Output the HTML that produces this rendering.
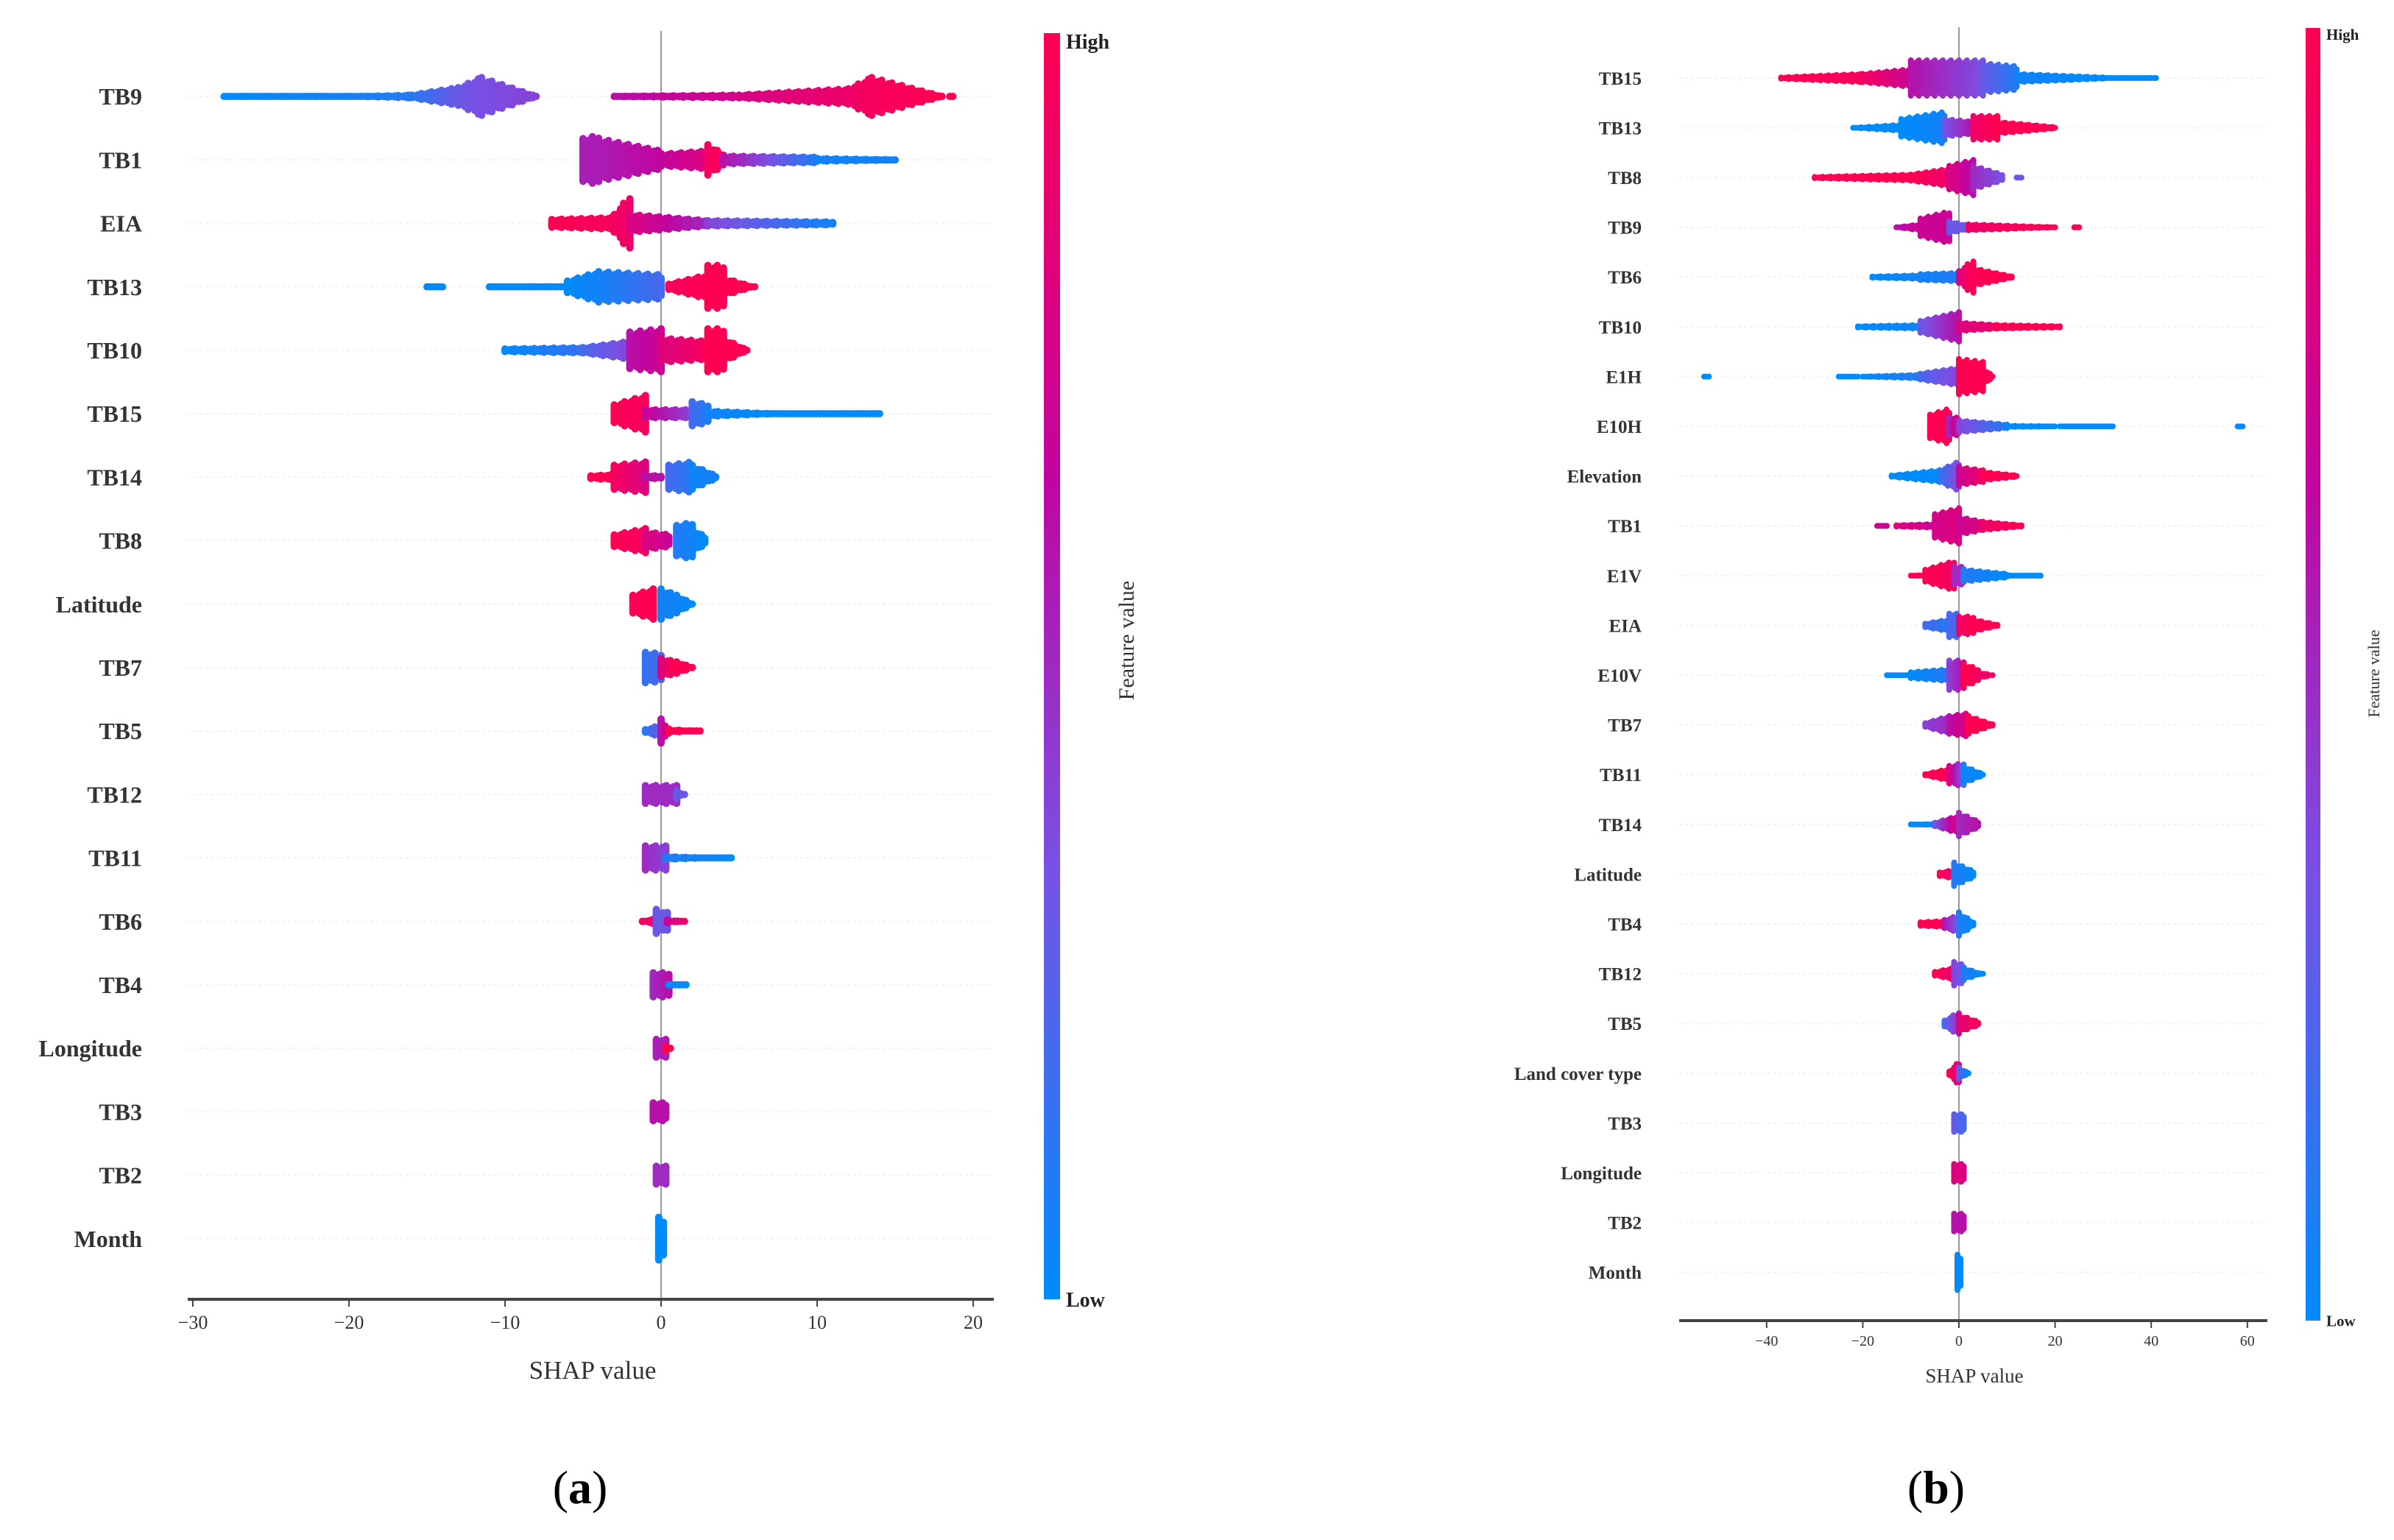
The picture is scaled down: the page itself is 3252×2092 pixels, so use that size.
<!DOCTYPE html>
<html><head><meta charset="utf-8">
<style>
html,body{margin:0;padding:0;background:#fff;}
svg{display:block;}
text{font-family:"Liberation Serif",serif;}
</style></head>
<body>
<svg id="chart" width="3252" height="2092" viewBox="0 0 3252 2092" xmlns="http://www.w3.org/2000/svg">
<defs>
<linearGradient id="cbar" x1="0" y1="1" x2="0" y2="0">
<stop offset="0" stop-color="#008bfb"/>
<stop offset="0.35" stop-color="#7a4fe3"/>
<stop offset="0.65" stop-color="#c2049f"/>
<stop offset="1" stop-color="#ff0052"/>
</linearGradient>
</defs>
<g id="panelA"></g>
<g id="panelB"></g>
</svg>
<script>
// ---- Panel (a) data ----
const featuresA = ["TB9","TB1","EIA","TB13","TB10","TB15","TB14","TB8","Latitude","TB7","TB5","TB12","TB11","TB6","TB4","Longitude","TB3","TB2","Month"];
const ticksA = [-30,-20,-10,0,10,20];
// segments: [shapStart, shapEnd, halfHeightStart, halfHeightEnd, colorStart, colorEnd]
const segsA = [
 [[-28,-22,4,4,0,0.05],[-22,-16,4,8,0.05,0.1],[-16,-13,8,20,0.1,0.3],[-13,-11.5,20,36,0.3,0.35],[-11.5,-8,36,6,0.35,0.4],[-3,5,6,8,0.6,0.75],[5,12,8,18,0.75,0.9],[12,13.5,18,36,0.9,0.95],[13.5,18,36,6,0.95,1],[18.5,18.7,4,4,1,1]],
 [[-5,-4,40,45,0.55,0.55],[-4,0,40,20,0.55,0.65],[0,3,15,20,0.65,0.8],[3,4,30,15,0.95,0.95],[4,10,12,10,0.6,0.1],[10,15,8,6,0.05,0.05]],
 [[-7,-3,12,15,1,0.95],[-3,-2,20,50,0.95,0.9],[-2,3,20,10,0.8,0.5],[3,11,10,8,0.4,0.05]],
 [[-15,-14,4,4,0,0],[-11,-6,5,5,0,0],[-6,-4,15,30,0,0.05],[-4,0,30,25,0.05,0.2],[0.5,3,10,25,0.95,1],[3,4,40,40,1,1],[4,6,20,5,1,1]],
 [[-10,-5,8,10,0,0.15],[-5,-2,10,20,0.2,0.4],[-2,0,35,40,0.6,0.7],[0,3,25,20,0.8,0.95],[3,4,40,40,1,1],[4,5.5,25,6,1,1]],
 [[-3,-1,20,35,1,0.95],[-1,2,12,12,0.7,0.4],[2,3,25,20,0.2,0.1],[3,7,10,6,0.05,0],[7,14,4,4,0,0]],
 [[-4.5,-3,8,10,1,1],[-3,-1,25,30,0.95,0.8],[-1,0,8,8,0.6,0.6],[0.5,2,25,30,0.2,0.1],[2,3.5,25,8,0.05,0.05]],
 [[-3,-1,15,25,1,0.95],[-1,0.5,20,15,0.8,0.7],[1,2,30,35,0.1,0.05],[2,2.8,25,12,0.05,0]],
 [[-1.8,-0.5,20,30,1,1],[0,1,30,20,0.05,0.05],[1,2,20,6,0.05,0]],
 [[-1,0,30,28,0.15,0.2],[0,1,20,15,0.8,1],[1,2,15,6,1,1]],
 [[-1,0,8,15,0.1,0.3],[0,0.5,25,10,0.6,0.9],[0.5,2.5,8,5,1,1]],
 [[-1,1,20,20,0.5,0.5],[1,1.5,12,6,0.3,0.3]],
 [[-1,0.3,25,25,0.5,0.4],[0.3,4.5,8,4,0.1,0]],
 [[-1.2,-0.3,6,10,1,0.8],[-0.3,0.4,25,20,0.3,0.3],[0.4,1.5,8,5,0.7,0.9]],
 [[-0.5,0.5,25,25,0.5,0.6],[0.5,1.6,6,5,0,0]],
 [[-0.3,0.3,20,20,0.55,0.55],[0.3,0.6,10,6,1,1]],
 [[-0.5,0.3,20,20,0.6,0.6]],
 [[-0.3,0.3,20,20,0.5,0.5]],
 [[-0.15,0.15,40,40,0,0]]
];
// ---- Panel (b) data ----
const featuresB = ["TB15","TB13","TB8","TB9","TB6","TB10","E1H","E10H","Elevation","TB1","E1V","EIA","E10V","TB7","TB11","TB14","Latitude","TB4","TB12","TB5","Land cover type","TB3","Longitude","TB2","Month"];
const ticksB = [-40,-20,0,20,40,60];
const segsB = [
 [[-37,-20,6,12,1,0.95],[-20,-10,12,20,0.95,0.7],[-10,5,35,35,0.6,0.35],[5,12,30,25,0.3,0.1],[12,30,12,6,0.05,0],[30,41,4,4,0,0]],
 [[-22,-12,5,10,0,0],[-12,-3,20,32,0,0.05],[-3,3,20,15,0.3,0.6],[3,8,25,25,0.9,1],[8,20,15,6,1,1]],
 [[-30,-10,6,10,1,1],[-10,-2,10,20,1,0.9],[-2,3,25,35,0.8,0.6],[3,9,25,10,0.5,0.35],[12,13,4,4,0.3,0.3]],
 [[-13,-8,5,10,0.6,0.7],[-8,-2,20,32,0.7,0.7],[-2,2,15,8,0.3,0.3],[2,20,10,5,0.9,1],[24,25,4,4,1,1]],
 [[-18,-8,6,8,0,0.05],[-8,0,10,12,0.05,0.1],[0,3,15,35,0.8,1],[3,11,20,6,1,1]],
 [[-21,-8,6,8,0,0.05],[-8,0,15,30,0.3,0.6],[0,8,12,8,0.8,0.9],[8,21,8,6,1,1]],
 [[-53,-52,3,3,0,0],[-25,-21,4,4,0,0],[-20,-8,5,8,0,0.1],[-8,0,10,20,0.2,0.4],[0,5,35,30,1,1],[5,7,20,6,1,1]],
 [[-6,-2,25,35,1,1],[-2,0,20,20,0.5,0.8],[0,10,15,8,0.4,0.1],[10,20,6,5,0,0],[21,32,3,3,0,0],[58,59,3,3,0,0]],
 [[-14,-4,6,15,0,0],[-4,0,15,30,0.1,0.4],[0,5,20,15,0.7,0.9],[5,12,12,6,1,1]],
 [[-17,-15,3,3,0.7,0.7],[-13,-5,6,8,0.8,0.7],[-5,0,25,35,0.75,0.8],[0,5,20,12,0.7,0.8],[5,13,12,6,0.9,1]],
 [[-10,-7,4,6,1,1],[-7,-1,15,30,1,0.95],[-1,1,20,20,0.5,0.5],[1,10,15,8,0.1,0],[10,17,5,4,0,0]],
 [[-7,-2,8,15,0.2,0.1],[-2,0,25,25,0.2,0.2],[0,3,20,20,0.9,1],[3,8,15,6,1,1]],
 [[-15,-10,4,5,0,0],[-10,-2,10,15,0,0.1],[-2,1,30,30,0.4,0.6],[1,4,25,15,1,1],[4,7,10,5,0.9,0.9]],
 [[-7,-2,8,20,0.4,0.5],[-2,2,20,25,0.6,0.8],[2,7,20,6,1,1]],
 [[-7,-2,6,15,1,1],[-2,1,20,25,0.8,0.3],[1,5,20,6,0.05,0]],
 [[-10,-5,4,6,0,0],[-5,0,8,20,0.3,0.8],[0,4,25,10,0.5,0.6]],
 [[-4,-1,8,12,1,0.9],[-1,3,25,10,0.1,0]],
 [[-8,-3,8,10,1,1],[-3,0,12,20,0.6,0.3],[0,3,25,8,0.1,0]],
 [[-5,-1,8,15,1,0.9],[-1,1,25,20,0.4,0.3],[1,5,15,4,0.1,0]],
 [[-3,0,10,25,0.2,0.5],[0,4,20,8,0.8,1]],
 [[-2,0,8,25,1,0.8],[0,2,15,5,0.3,0]],
 [[-1,1,20,20,0.3,0.2]],
 [[-1,1,20,20,0.8,0.8]],
 [[-1,1,20,20,0.6,0.6]],
 [[-0.3,0.3,35,35,0,0]]
];

const NS = "http://www.w3.org/2000/svg";
function mk(tag, attrs, parent){const e=document.createElementNS(NS,tag);for(const k in attrs)e.setAttribute(k,attrs[k]);parent.appendChild(e);return e;}
const stops=[[0,[0,139,251]],[0.35,[122,79,227]],[0.65,[194,4,159]],[1,[255,0,82]]];
function col(t){t=Math.max(0,Math.min(1,t));for(let i=1;i<stops.length;i++){if(t<=stops[i][0]){const a=stops[i-1],b=stops[i];const f=(t-a[0])/(b[0]-a[0]);const c=a[1].map((v,j)=>Math.round(v+(b[1][j]-v)*f));return `rgb(${c[0]},${c[1]},${c[2]})`;}}return "rgb(255,0,82)";}

function panel(g, cfg){
  const xs=v=>cfg.x0+v*cfg.kx;
  const ys=i=>cfg.yTop+i*cfg.dy;
  cfg.features.forEach((f,i)=>{
    const gl=mk("line",{x1:cfg.axL,x2:cfg.axR,y1:ys(i),y2:ys(i),stroke:"#f2f2f2","stroke-width":2,"stroke-dasharray":"4 4"},g);
    
    
  });
  const zl=mk("line",{x1:xs(0),x2:xs(0),y1:cfg.zTop,y2:cfg.axY,stroke:"#999","stroke-width":2},g);
  
  
  cfg.features.forEach((f,i)=>{
    const t=mk("text",{x:cfg.labX,y:ys(i)+cfg.fs*0.35,"text-anchor":"end","font-size":cfg.fs,"font-weight":"bold",fill:"#333"},g);
    t.textContent=f;
    
    
  });
  cfg.segs.forEach((segs,i)=>{
    const row=mk("g",{},g);
    
    
    const y=ys(i);
    segs.forEach(s=>{
      const px0=xs(s[0]),px1=xs(s[1]);
      const step=cfg.r*0.9;
      const n=Math.max(1,Math.round((px1-px0)/step));
      for(let k=0;k<=n;k++){
        const f=n?k/n:0;
        const x=px0+(px1-px0)*f;
        const h=(s[2]+(s[3]-s[2])*f)*cfg.hs;
        const jig=(k%3===1)?0.8:(k%3===2?0.9:1);
        const hh=Math.max(0,h*jig-cfg.r);
        mk("line",{x1:x.toFixed(1),x2:x.toFixed(1),y1:(y-hh).toFixed(1),y2:(y+hh+0.01).toFixed(1),stroke:col(s[4]+(s[5]-s[4])*f),"stroke-width":cfg.r*2,"stroke-linecap":"round"},row);
      }
    });
  });
  const ax=mk("line",{x1:cfg.axL,x2:cfg.axR,y1:cfg.axY,y2:cfg.axY,stroke:"#444","stroke-width":4},g);
  
  
  cfg.ticks.forEach(v=>{
    const tk=mk("line",{x1:xs(v),x2:xs(v),y1:cfg.axY,y2:cfg.axY+10,stroke:"#444","stroke-width":2},g);
    
    
    const tl=mk("text",{x:xs(v),y:cfg.axY+cfg.tfs+14,"text-anchor":"middle","font-size":cfg.tfs,fill:"#333"},g);
    tl.textContent=v<0?"\u2212"+Math.abs(v):String(v);
    
    
  });
  const xt=mk("text",{x:cfg.xtX,y:cfg.xtY,"text-anchor":"middle","font-size":cfg.xfs,fill:"#333"},g);
  xt.textContent="SHAP value";
  
  
  const cb=mk("rect",{x:cfg.cbX,y:cfg.cbTop,width:cfg.cbW,height:cfg.axY-cfg.cbTop,fill:"url(#cbar)"},g);
  
  
  const hi=mk("text",{x:cfg.cbX+cfg.cbW+8,y:cfg.cbTop+cfg.cfs*0.75,"font-size":cfg.cfs,"font-weight":"bold",fill:"#222"},g);
  hi.textContent="High";
  
  
  const lo=mk("text",{x:cfg.cbX+cfg.cbW+8,y:cfg.axY+cfg.cfs*0.35,"font-size":cfg.cfs,"font-weight":"bold",fill:"#222"},g);
  lo.textContent="Low";
  
  
  const fv=mk("text",{x:cfg.fvX,y:cfg.fvY,"text-anchor":"middle","font-size":cfg.fvs,fill:"#333",transform:`rotate(-90 ${cfg.fvX} ${cfg.fvY})`},g);
  fv.textContent="Feature value";
  
  
  const cap=mk("text",{x:cfg.capX,y:2042,"text-anchor":"middle","font-size":64,fill:"#000"},g);
  cap.innerHTML='(<tspan font-weight="bold">'+cfg.cap+'</tspan>)';
  
  
}

panel(document.getElementById("panelA"),{
  features:featuresA,segs:segsA,ticks:ticksA,
  x0:898,kx:21.2,yTop:131,dy:86.2,r:5,hs:0.85,
  axL:255,axR:1350,axY:1765,zTop:42,labX:193,fs:32,tfs:26,
  xtX:805,xtY:1873,xfs:35,cbX:1418,cbW:22,cbTop:45,cfs:28,
  fvX:1540,fvY:870,fvs:30,capX:788,cap:"a"
});
panel(document.getElementById("panelB"),{
  features:featuresB,segs:segsB,ticks:ticksB,
  x0:2661,kx:6.53,yTop:106,dy:67.6,r:4,hs:0.8,
  axL:2281,axR:3080,axY:1794,zTop:37,labX:2230,fs:25,tfs:20,
  xtX:2682,xtY:1878,xfs:27,cbX:3132,cbW:20,cbTop:38,cfs:21,
  fvX:3232,fvY:915,fvs:22,capX:2630,cap:"b"
});
</script>
</body></html>
